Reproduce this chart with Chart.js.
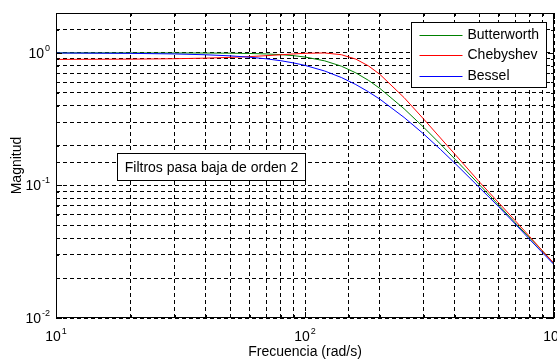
<!DOCTYPE html>
<html lang="es">
<head>
<meta charset="UTF-8">
<title>Filtros pasa baja de orden 2</title>
<script src="https://cdn.jsdelivr.net/npm/chart.js"></script>
<style>
  html, body { margin: 0; padding: 0; background: #fff; }
  canvas { display: block; }
</style>
</head>
<body>
<canvas id="chart" width="557" height="362"></canvas>
<script>
// frequency (rad/s) and magnitude
const freq = [10, 20, 30, 40, 50, 60, 70, 80, 90, 100, 120, 140, 160, 180, 200, 250, 300, 350, 400, 500, 600, 700, 800, 900, 1000];
const butterworth = [1.000, 1.000, 0.999, 0.998, 0.995, 0.990, 0.982, 0.970, 0.953, 0.931, 0.871, 0.794, 0.707, 0.620, 0.539, 0.379, 0.274, 0.205, 0.158, 0.102, 0.071, 0.052, 0.040, 0.032, 0.0256];
const chebyshev = [0.893, 0.897, 0.904, 0.913, 0.925, 0.938, 0.953, 0.968, 0.982, 0.993, 0.999, 0.969, 0.898, 0.797, 0.688, 0.460, 0.316, 0.228, 0.172, 0.107, 0.074, 0.054, 0.041, 0.032, 0.0259];
const bessel = [0.998, 0.992, 0.982, 0.968, 0.950, 0.928, 0.902, 0.873, 0.840, 0.805, 0.730, 0.652, 0.577, 0.508, 0.447, 0.326, 0.244, 0.187, 0.147, 0.097, 0.069, 0.051, 0.039, 0.031, 0.0253];

const seriesNames = ['Butterworth', 'Chebyshev', 'Bessel'];
const seriesColors = ['#008000', '#ff0000', '#0000ff'];

const xTickValues = [10, 100, 1000];
const xTickExps = ['1', '2', '3'];
const yTickValues = [0.01, 0.1, 1];
const yTickExps = ['-2', '-1', '0'];

const xTitle = 'Frecuencia (rad/s)';
const yTitle = 'Magnitud';
const noteText = 'Filtros pasa baja de orden 2';
const noteAt = { x: 17.6, y: 0.139 };   // left edge / vertical centre of the text box, in data units

const FONT = '"Liberation Sans", Arial, sans-serif';

function isDecade(v) {
  const l = Math.log10(v);
  return Math.abs(l - Math.round(l)) < 1e-6;
}

function drawPower(ctx, base, exp, px, baseline, align) {
  ctx.font = '14px ' + FONT;
  const wb = ctx.measureText(base).width;
  ctx.font = '9px ' + FONT;
  const we = ctx.measureText(exp).width;
  const total = wb + we + 1;
  const left = align === 'center' ? px - total / 2 : px - total;
  ctx.textAlign = 'left';
  ctx.textBaseline = 'alphabetic';
  ctx.font = '14px ' + FONT;
  ctx.fillText(base, left, baseline);
  ctx.font = '9px ' + FONT;
  ctx.fillText(exp, left + wb + 1, baseline - 7);
}

// MATLAB style box, inward ticks, labels, legend and text box
const matlabAxes = {
  id: 'matlabAxes',
  afterDraw(chart) {
    const { ctx, chartArea: a, scales: { x, y } } = chart;
    ctx.save();
    ctx.setLineDash([]);
    ctx.lineWidth = 1;
    ctx.strokeStyle = '#000';
    ctx.fillStyle = '#000';

    ctx.beginPath();
    x.ticks.forEach(t => {
      const px = Math.round(x.getPixelForValue(t.value)) + 0.5;
      const len = isDecade(t.value) ? 6 : 3;
      ctx.moveTo(px, a.bottom); ctx.lineTo(px, a.bottom - len);
      ctx.moveTo(px, a.top); ctx.lineTo(px, a.top + len);
    });
    y.ticks.forEach(t => {
      const py = Math.round(y.getPixelForValue(t.value)) + 0.5;
      const len = isDecade(t.value) ? 6 : 3;
      ctx.moveTo(a.left, py); ctx.lineTo(a.left + len, py);
      ctx.moveTo(a.right, py); ctx.lineTo(a.right - len, py);
    });
    ctx.stroke();
    ctx.strokeRect(Math.round(a.left) + 0.5, Math.round(a.top) + 0.5,
                   Math.round(a.width) - 1, Math.round(a.height) - 1);

    // tick labels
    xTickValues.forEach((v, i) => {
      drawPower(ctx, '10', xTickExps[i], x.getPixelForValue(v), a.bottom + 23, 'center');
    });
    yTickValues.forEach((v, i) => {
      drawPower(ctx, '10', yTickExps[i], a.left - 6, y.getPixelForValue(v) + 5, 'right');
    });

    // axis titles
    ctx.font = '14px ' + FONT;
    ctx.textAlign = 'center';
    ctx.textBaseline = 'middle';
    ctx.fillText(xTitle, (a.left + a.right) / 2, 352);
    ctx.save();
    ctx.translate(17, (a.top + a.bottom) / 2);
    ctx.rotate(-Math.PI / 2);
    ctx.fillText(yTitle, 0, 0);
    ctx.restore();

    // legend
    const lx = Math.round(a.right) - 143 + 0.5, ly = Math.round(a.top) + 9 + 0.5;
    ctx.fillStyle = '#fff';
    ctx.fillRect(lx, ly, 135, 65);
    ctx.strokeStyle = '#000';
    ctx.strokeRect(lx, ly, 135, 65);
    ctx.textAlign = 'left';
    seriesNames.forEach((name, i) => {
      const cy = Math.round(ly + 12 + i * 20.5) + 0.5;
      ctx.beginPath();
      ctx.strokeStyle = seriesColors[i];
      ctx.lineWidth = 1;
      ctx.moveTo(lx + 8, cy); ctx.lineTo(lx + 51, cy);
      ctx.stroke();
      ctx.fillStyle = '#000';
      ctx.fillText(name, lx + 56, cy);
    });

    // text box
    ctx.font = '14px ' + FONT;
    const tw = ctx.measureText(noteText).width;
    const bx = Math.round(x.getPixelForValue(noteAt.x)) + 0.5;
    const by = y.getPixelForValue(noteAt.y);
    const bw = Math.round(tw + 14), bh = 27;
    const top = Math.round(by - bh / 2) + 0.5;
    ctx.fillStyle = '#fff';
    ctx.fillRect(bx, top, bw, bh);
    ctx.strokeStyle = '#000';
    ctx.strokeRect(bx, top, bw, bh);
    ctx.fillStyle = '#000';
    ctx.textAlign = 'center';
    ctx.fillText(noteText, bx + bw / 2, top + bh / 2 + 1);

    ctx.restore();
  }
};

const seriesData = [butterworth, chebyshev, bessel];

new Chart(document.getElementById('chart'), {
  type: 'line',
  data: {
    datasets: seriesNames.map((name, i) => ({
      label: name,
      data: freq.map((f, k) => ({ x: f, y: seriesData[i][k] })),
      borderColor: seriesColors[i],
      borderWidth: 1,
      pointRadius: 0,
      tension: 0,
      fill: false,
      order: 2 - i
    }))
  },
  options: {
    responsive: false,
    animation: false,
    events: [],
    layout: { padding: { top: 13, right: 3, left: 0, bottom: 0 } },
    plugins: { legend: { display: false }, tooltip: { enabled: false } },
    scales: {
      x: {
        type: 'logarithmic',
        min: 10,
        max: 1000,
        ticks: { display: false, autoSkip: false },
        grid: { color: '#000', lineWidth: 1, drawTicks: false },
        border: { display: false, dash: [4, 3] },
        afterFit: s => { s.height = 44; }
      },
      y: {
        type: 'logarithmic',
        min: 0.01,
        max: 2,
        ticks: { display: false, autoSkip: false },
        grid: { color: '#000', lineWidth: 1, drawTicks: false },
        border: { display: false, dash: [4, 3] },
        afterFit: s => { s.width = 56; }
      }
    }
  },
  plugins: [matlabAxes]
});
</script>
</body>
</html>
